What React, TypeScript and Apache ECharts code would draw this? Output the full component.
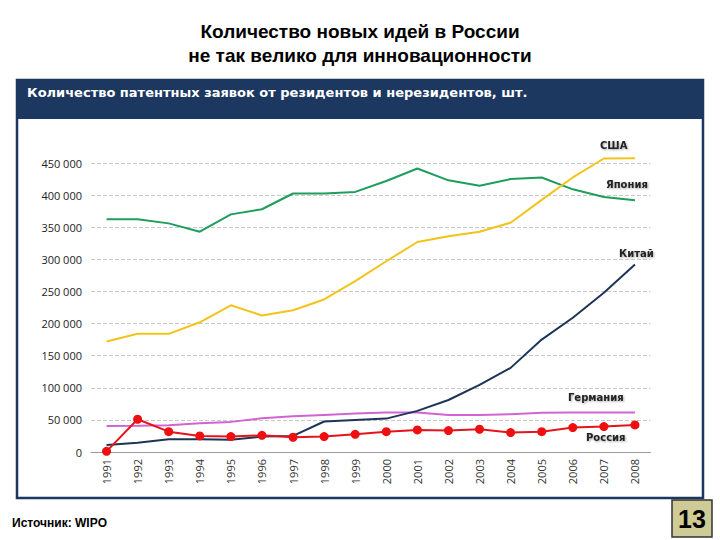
import React, { useEffect, useRef } from "react";
import * as echarts from "echarts";

const years = ["1991", "1992", "1993", "1994", "1995", "1996", "1997", "1998", "1999", "2000", "2001", "2002", "2003", "2004", "2005", "2006", "2007", "2008"];

const usa = [172000, 184000, 184000, 202000, 228500, 212500, 220800, 237500, 266000, 297000, 327000, 336000, 343000, 357000, 392500, 427500, 457000, 457500];
const japan = [362500, 362500, 356000, 343000, 370000, 378000, 402500, 402500, 405000, 422000, 441500, 423000, 414500, 425000, 427500, 409000, 397000, 392000];
const china = [11000, 14500, 19800, 19800, 19000, 24000, 25000, 47500, 50000, 52000, 64000, 81000, 104500, 131000, 175000, 209000, 248000, 292000];
const germany = [40600, 41000, 41700, 44800, 46900, 52600, 55800, 57800, 59800, 61400, 61400, 57800, 57800, 58900, 61000, 61400, 61400, 61400];
const russia = [1000, 51000, 31700, 25000, 24000, 26000, 23000, 24000, 27600, 31700, 34400, 33300, 35400, 30200, 31700, 38000, 39600, 42200];

const NAVY = "#1c3760";

const fmt = (v: number) => {
  if (v === 0) return "0";
  const s = String(v);
  return s.slice(0, s.length - 3) + " " + s.slice(-3);
};

const seriesLabel = (text: string, x: number, y: number) => ({
  type: "text",
  left: x,
  top: y,
  style: {
    text,
    fill: "#222",
    font: "bold 10px 'DejaVu Sans', sans-serif",
    textShadowColor: "rgba(0,0,0,0.35)",
    textShadowBlur: 2,
    textShadowOffsetX: 1,
    textShadowOffsetY: 1,
  },
});

const App = () => {
  const chartRef = useRef<HTMLDivElement>(null);

  useEffect(() => {
    document.body.style.margin = "0";
    if (!chartRef.current) return;
    const chart = echarts.init(chartRef.current, null, { renderer: "svg" });

    const line = (name: string, data: number[], color: string, extra: any = {}) => ({
      name,
      type: "line",
      data,
      clip: false,
      symbol: "none",
      lineStyle: { color, width: 2 },
      itemStyle: { color },
      ...extra,
    });

    chart.setOption({
      animation: false,
      backgroundColor: "#fff",
      grid: { left: 91, right: 69.5, top: 163, bottom: 88 },
      xAxis: {
        type: "category",
        data: years,
        boundaryGap: true,
        axisLine: { lineStyle: { color: "#9a9a9a" } },
        axisTick: { length: 5, lineStyle: { color: "#9a9a9a" } },
        axisLabel: {
          rotate: 90,
          color: "#333",
          fontSize: 11,
          fontFamily: "'Open Sans', sans-serif",
          margin: 7,
        },
      },
      yAxis: {
        type: "value",
        min: 0,
        max: 450000,
        interval: 50000,
        axisLine: { show: false },
        axisTick: { show: false },
        splitLine: { lineStyle: { color: "#c8c8c8", type: "dashed" } },
        axisLabel: {
          color: "#222",
          fontSize: 11,
          fontFamily: "'Open Sans', sans-serif",
          margin: 9,
          formatter: fmt,
        },
      },
      series: [
        line("Япония", japan, "#1f9d5c"),
        line("США", usa, "#f2c31b"),
        line("Германия", germany, "#d264d2"),
        line("Китай", china, "#1e3456"),
        line("Россия", russia, "#e3141c", {
          symbol: "circle",
          symbolSize: 9,
          itemStyle: { color: "#ee1010" },
        }),
      ],
      graphic: [
        {
          type: "text",
          left: "center",
          top: 22,
          style: {
            text: "Количество новых идей в России",
            fill: "#000",
            font: "bold 19px 'Liberation Sans', Arial, sans-serif",
          },
        },
        {
          type: "text",
          left: "center",
          top: 46,
          style: {
            text: "не так велико для инновационности",
            fill: "#000",
            font: "bold 19px 'Liberation Sans', Arial, sans-serif",
          },
        },
        {
          type: "rect",
          shape: { x: 17, y: 80, width: 686, height: 39 },
          style: { fill: NAVY },
        },
        {
          type: "rect",
          shape: { x: 17, y: 80, width: 686, height: 418 },
          style: { fill: "none", stroke: NAVY, lineWidth: 2.5 },
        },
        {
          type: "text",
          left: 27,
          top: 86,
          style: {
            text: "Количество патентных заявок от резидентов и нерезидентов, шт.",
            fill: "#fff",
            font: "bold 13px 'DejaVu Sans', sans-serif",
          },
        },
        seriesLabel("США", 600, 140),
        seriesLabel("Япония", 606, 179),
        seriesLabel("Китай", 619, 248),
        seriesLabel("Германия", 568, 392),
        seriesLabel("Россия", 586, 432),
        {
          type: "text",
          left: 12,
          top: 517,
          style: {
            text: "Источник: WIPO",
            fill: "#000",
            font: "bold 12px 'Liberation Sans Narrow', 'Liberation Sans', sans-serif",
          },
        },
        {
          type: "rect",
          shape: { x: 672, y: 500, width: 40, height: 37 },
          style: { fill: "#cfcb96", stroke: "#333", lineWidth: 1.5 },
        },
        {
          type: "text",
          x: 692,
          y: 519,
          style: {
            text: "13",
            fill: "#000",
            font: "bold 25px 'Liberation Sans', Arial, sans-serif",
            align: "center",
            verticalAlign: "middle",
          },
        },
      ],
    });

    return () => chart.dispose();
  }, []);

  return <div ref={chartRef} style={{ width: "720px", height: "540px" }} />;
};

export default App;
